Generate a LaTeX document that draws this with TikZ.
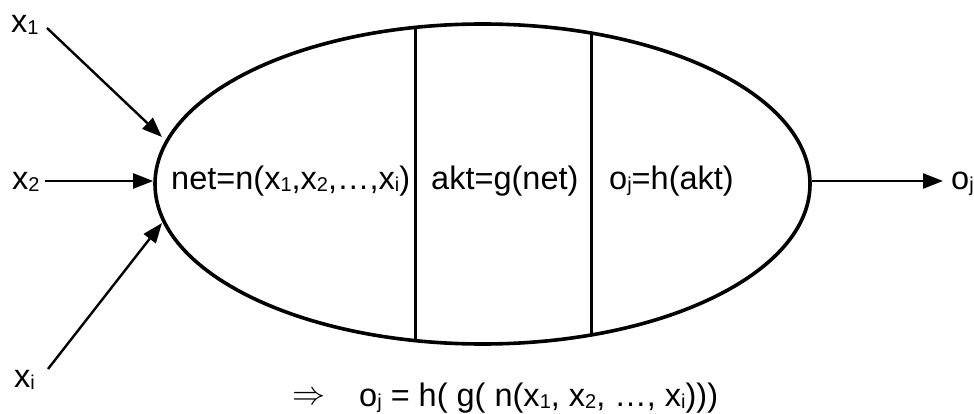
\documentclass[tikz,border=0pt]{standalone}
\usepackage{fontspec}
\setmainfont{Liberation Sans}
\usetikzlibrary{arrows.meta,shapes.geometric}
\newcommand\sbs[1]{\raisebox{-2pt}{\fontsize{20}{20}\selectfont #1}}
\begin{document}
\begin{tikzpicture}[x=1pt,y=1pt,
  lbl/.style={font=\fontsize{32.5}{36}\selectfont, inner sep=0pt, anchor=base west},
  arr/.style={line width=2.4pt, -{Triangle[length=20pt,width=15pt]}},
  cell/.style={line width=3.4pt}]
\useasboundingbox (0,0) rectangle (974,413);
\node[draw, ellipse, line width=3.6pt, minimum width=655pt, minimum height=320pt, inner sep=0pt] (ell) at (482.5,229) {};
% dividers
\coordinate (v1t) at (415.7,385.6);
\coordinate (v1b) at (415.7,72.4);
\coordinate (v2t) at (591.7,380);
\coordinate (v2b) at (591.7,78);
\draw[cell] (v1t) -- (v1b);
\draw[cell] (v2t) -- (v2b);
% texts
\node[lbl] (net) at (171,223.5) {net=n(x\sbs{1},x\sbs{2},…,x\sbs{i})};
\node[lbl] (akt) at (431,223.5) {akt=g(net)};
\node[lbl] (oh) at (609,223.5) {o\sbs{j}=h(akt)};
\node[lbl] (oj) at (951,223.5) {o\sbs{j}};
\node[lbl] (x1) at (11,380) {x\sbs{1}};
\node[lbl] (x2) at (12,223.5) {x\sbs{2}};
\node[lbl] (xi) at (14,26) {x\sbs{i}};
\node[lbl] (res) at (292,6.5) {\raisebox{2pt}{\resizebox{33pt}{!}{$\Rightarrow$}}\hspace{34pt}o\sbs{j} = h( g( n(x\sbs{1}, x\sbs{2}, …, x\sbs{i})))};
% arrows
\coordinate (s1) at (47,385);
\coordinate (e1) at (162,276);
\coordinate (s2) at (45,232);
\coordinate (si) at (48,44);
\coordinate (ei) at (162,190);
\coordinate (oin) at (943,232);
\draw[arr] (s1) -- (e1);
\draw[arr] (s2) -- (ell.west |- s2);
\draw[arr] (si) -- (ei);
\draw[arr] (ell.east |- oin) -- (oin);
\end{tikzpicture}
\end{document}
